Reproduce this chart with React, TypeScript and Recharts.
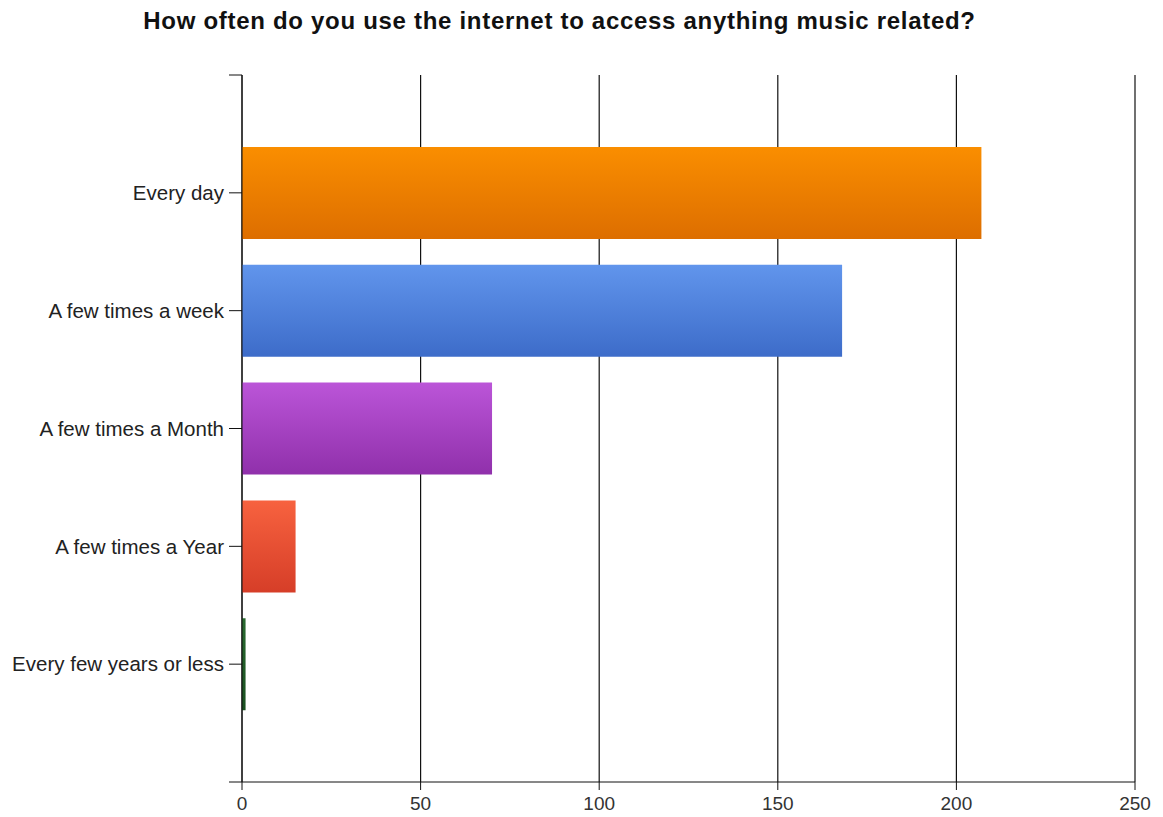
import { Bar, BarChart, CartesianGrid, Cell, XAxis, YAxis } from "recharts";

const categories = [
  "Every day",
  "A few times a week",
  "A few times a Month",
  "A few times a Year",
  "Every few years or less",
];
const responses = [207, 168, 70, 15, 1];
const xTicks = [0, 50, 100, 150, 200, 250];

const gradients = [
  ["#fa8e00", "#dd6e00"],
  ["#6195ec", "#3d6cc9"],
  ["#bb55d8", "#9030ab"],
  ["#f7623f", "#d63e28"],
  ["#2a6a30", "#1a5020"],
];

const data = categories.map((name, i) => ({ name, pos: i + 1, value: responses[i] }));

export default function App() {
  return (
    <div style={{ position: "absolute", left: 0, top: 0, width: 1163, height: 817, background: "#fff", fontFamily: "Arial, 'Liberation Sans', sans-serif" }}>
      <div style={{ position: "absolute", top: 7, width: 1163, textAlign: "center", paddingRight: 44, boxSizing: "border-box", fontSize: 24, letterSpacing: 0.7, fontWeight: "bold", color: "#111" }}>
        How often do you use the internet to access anything music related?
      </div>
      <BarChart
        width={1163}
        height={817}
        data={data}
        layout="vertical"
        margin={{ top: 75, right: 28, bottom: 0, left: 0 }}
      >
        <defs>
          {gradients.map(([a, b], i) => (
            <linearGradient key={i} id={`g${i}`} x1="0" y1="0" x2="0" y2="1">
              <stop offset="0%" stopColor={a} />
              <stop offset="100%" stopColor={b} />
            </linearGradient>
          ))}
        </defs>
        <CartesianGrid horizontal={false} stroke="#111" strokeWidth={1.2} />
        <XAxis
          type="number"
          domain={[0, 250]}
          ticks={xTicks}
          interval={0}
          stroke="#111"
          tickSize={8}
          tickMargin={7}
          tick={{ fill: "#333", fontSize: 19 }}
          height={35}
        />
        <YAxis
          type="number"
          dataKey="pos"
          domain={[0, 6]}
          ticks={[0, 1, 2, 3, 4, 5, 6]}
          interval={0}
          width={242}
          stroke="#111"
          tickSize={13}
          tickMargin={5}
          tickFormatter={(v: number) => categories[v - 1] ?? ""}
          tick={{ fill: "#222", fontSize: 20.5 }}
        />
        <Bar dataKey="value" barSize={92} isAnimationActive={false}>
          {data.map((d, i) => (
            <Cell key={d.name} fill={`url(#g${i})`} />
          ))}
        </Bar>
      </BarChart>
    </div>
  );
}
